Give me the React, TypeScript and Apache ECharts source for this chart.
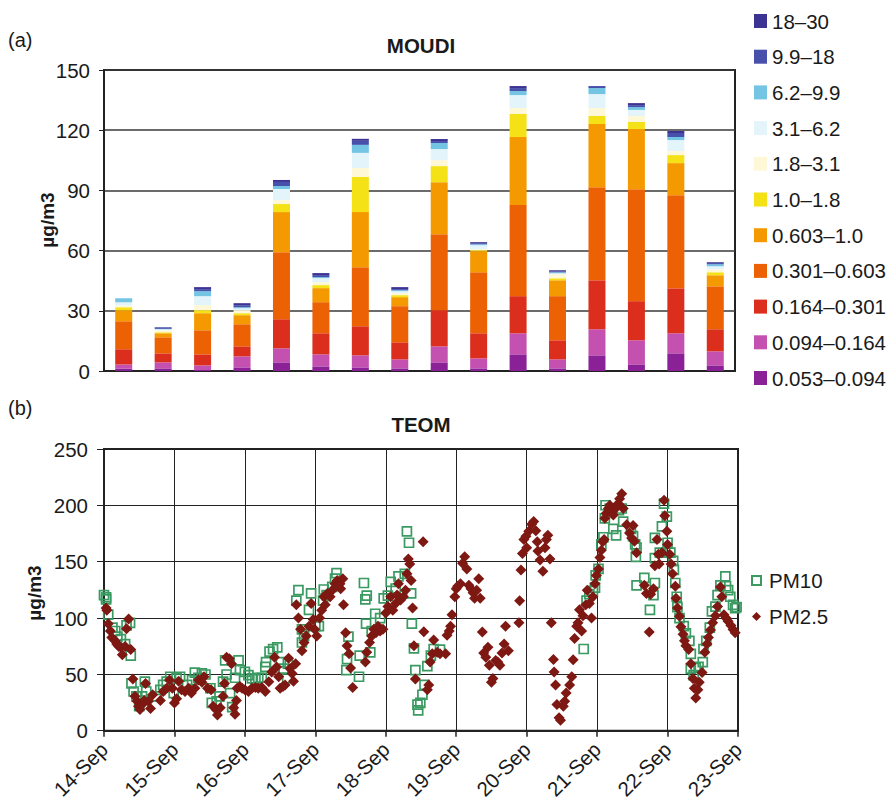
import React, { useEffect, useRef } from "react";
import * as echarts from "echarts";

// ---------- MOUDI (panel a) ----------
const categories = ["P1","P2","P3","P4","P5","P6","P7","P8","P9","P10","P11","P12","P13","P14","P15","P16"];
const sizeBins = ["0.053–0.094","0.094–0.164","0.164–0.301","0.301–0.603","0.603–1.0","1.0–1.8","1.8–3.1","3.1–6.2","6.2–9.9","9.9–18","18–30"];
const binColors = ["#8a2196","#c450b0","#dc2e1c","#ec6104","#f49a00","#f4e116","#fff8d6","#e3f4fa","#74c4e4","#4750aa","#3d3393"];

const v0053 = [1.3, 1.3, 0.5, 1.8, 4.3, 2.3, 1.8, 1.3, 4.3, 1.3, 8.3, 1.3, 7.8, 3.3, 8.8, 2.8];
const v0094 = [2.0, 3.0, 2.3, 5.5, 7.0, 6.0, 6.0, 4.5, 8.0, 5.0, 10.5, 4.5, 13.0, 12.0, 10.0, 7.0];
const v0164 = [7.5, 4.5, 5.5, 5.0, 14.5, 10.5, 14.5, 8.5, 18.0, 12.5, 18.5, 9.5, 24.4, 19.5, 22.4, 11.0];
const v0301 = [14.0, 8.0, 12.0, 11.0, 33.4, 15.5, 29.4, 18.0, 37.9, 30.4, 45.4, 22.0, 46.4, 55.8, 46.4, 21.4];
const v0603 = [5.5, 2.0, 8.5, 4.5, 20.0, 7.0, 27.5, 4.5, 25.9, 10.5, 33.9, 7.9, 31.5, 30.0, 16.0, 5.5];
const v10 = [1.5, 0.5, 1.5, 1.0, 4.0, 1.5, 17.5, 1.0, 8.0, 0.5, 11.5, 1.0, 4.0, 3.5, 4.0, 1.5];
const v18 = [0.8, 1.0, 2.5, 1.5, 2.0, 1.5, 4.5, 1.0, 3.0, 0.5, 3.0, 2.0, 4.0, 3.0, 2.0, 1.5];
const v31 = [1.7, 0.5, 4.5, 1.0, 5.5, 2.0, 7.5, 1.0, 5.5, 2.0, 6.4, 0.5, 6.9, 3.0, 5.5, 1.5];
const v62 = [2.0, 0.2, 2.5, 0.5, 1.5, 0.5, 4.0, 0.5, 3.0, 0.5, 2.0, 0.5, 3.0, 1.4, 1.5, 1.0];
const v99 = [0, 0.8, 1.0, 1.0, 2.0, 1.0, 2.0, 0.5, 1.0, 0.5, 1.5, 0.5, 1.0, 1.0, 2.0, 0.6];
const v1830 = [0, 0, 1.0, 1.0, 1.0, 1.0, 1.0, 1.0, 1.0, 0.5, 1.0, 0.5, 0, 1.0, 1.0, 0.4];
const binValues = [v0053, v0094, v0164, v0301, v0603, v10, v18, v31, v62, v99, v1830];

const moudiTicks = [0, 30, 60, 90, 120, 150];

// ---------- TEOM (panel b) ---------- x = days since 14-Sep
const dayLabels = ["14-Sep","15-Sep","16-Sep","17-Sep","18-Sep","19-Sep","20-Sep","21-Sep","22-Sep","23-Sep"];
const teomTicks = [0, 50, 100, 150, 200, 250];

const pm25 = [
  [0.03,108.8],[0.04,107],[0.06,95],[0.09,88.5],[0.11,82.7],[0.16,79.8],[0.18,76.9],[0.21,74.8],[0.24,74],[0.26,67.3],
  [0.30,74.8],[0.32,90.5],[0.35,99.2],[0.38,72],[0.41,45.8],[0.44,30.5],[0.47,26.1],[0.49,21.8],[0.51,18.9],[0.54,23.2],
  [0.57,26.7],[0.59,42],[0.63,26.1],[0.66,19.7],[0.69,31.9],[0.80,26.7],[0.84,34.8],[0.89,37.7],[0.93,45],[0.97,37.7],
  [1.0,24.7],[1.03,28.4],[1.06,44],[1.10,36.3],[1.15,34.8],[1.20,37.7],[1.24,33.4],[1.29,37.7],[1.34,45],[1.39,42.9],
  [1.42,47.9],[1.47,37.7],[1.52,36.3],[1.55,21.8],[1.59,18.9],[1.61,13.9],[1.65,20.3],[1.69,30.5],[1.71,42],[1.74,65.3],
  [1.78,63.8],[1.81,59.5],[1.84,20.3],[1.86,14.5],[1.88,26.7],[1.89,37.7],[1.93,39.2],[1.96,37.7],[2.0,36.3],[2.05,34.8],
  [2.10,37.7],[2.15,38.3],[2.19,37.7],[2.24,38.3],[2.29,34.8],[2.34,43.5],[2.38,52.2],[2.42,65.3],[2.45,56.6],[2.48,47.9],
  [2.50,37.7],[2.54,39.2],[2.57,40.6],[2.62,64.4],[2.64,55.1],[2.67,50.8],[2.69,44],[2.72,59.5],[2.73,111.7],[2.76,100],
  [2.79,90],[2.81,71],[2.84,78.3],[2.87,84.1],[2.91,92.8],[2.94,113],[2.97,98.6],[2.99,90],[3.02,84.1],[3.06,100],
  [3.09,107],[3.12,118.9],[3.14,111.7],[3.17,121.8],[3.21,118.9],[3.24,124.7],[3.28,130.5],[3.31,133.4],[3.35,130.5],[3.36,126],
  [3.39,134.9],[3.40,111.7],[3.43,87],[3.45,75.4],[3.48,68.2],[3.50,55.7],[3.53,38.3],[3.71,60.9],[3.73,69.6],[3.77,78.3],
  [3.80,84.1],[3.83,90],[3.86,87],[3.89,92.8],[3.92,88.5],[3.96,90],[4.0,104.4],[4.03,110.2],[4.07,118.9],[4.10,107],
  [4.14,113],[4.16,120.4],[4.18,130.5],[4.21,116],[4.25,118.9],[4.28,124.7],[4.30,139.2],[4.32,152.3],[4.34,147.9],[4.36,133.4],
  [4.38,108.8],[4.40,75.4],[4.42,45.8],[4.53,167.6],[4.54,87.9],[4.59,36.3],[4.61,40.6],[4.63,60.9],[4.66,68.2],[4.68,80.6],
  [4.73,69.6],[4.77,68.2],[4.85,68.2],[4.87,84.7],[4.90,88.5],[4.92,92.8],[4.94,103],[4.98,118.9],[5.0,126],[5.02,128.2],
  [5.06,130.5],[5.09,148.5],[5.12,154.3],[5.15,143.6],[5.18,129],[5.21,126],[5.24,122.4],[5.26,117.5],[5.29,124.7],[5.32,134.9],
  [5.34,117.5],[5.37,87.6],[5.39,69],[5.42,65.3],[5.45,74],[5.47,58],[5.50,42.9],[5.52,46.4],[5.56,62.4],[5.59,60.9],
  [5.62,58],[5.65,69],[5.68,76.9],[5.70,92.8],[5.74,71],[5.89,95.7],[5.90,115.4],[5.92,142.7],[5.94,157.2],[5.96,169.7],
  [5.99,172.6],[6.0,162.4],[6.03,176.9],[6.07,183.3],[6.10,185.6],[6.13,177.5],[6.15,167.6],[6.16,159.5],[6.19,151.4],[6.23,141.5],
  [6.26,162.4],[6.28,169.7],[6.30,173.4],[6.33,152.3],[6.35,95.7],[6.38,63.2],[6.39,52.2],[6.41,40.6],[6.43,23.2],[6.46,11.6],
  [6.48,9.3],[6.52,21.8],[6.54,26.1],[6.56,33.4],[6.61,40.6],[6.64,47.9],[6.66,62.9],[6.68,81.8],[6.71,92.8],[6.73,95.7],
  [6.75,107.3],[6.78,88.5],[6.80,102.1],[6.84,111.7],[6.86,124.7],[6.89,113],[6.92,100],[6.94,118.9],[6.97,130.5],[6.99,137.8],
  [7.02,143.6],[7.04,153.7],[7.06,160.1],[7.08,167.6],[7.10,169.7],[7.11,188.5],[7.13,192.9],[7.16,197.2],[7.18,200.1],[7.21,194.3],
  [7.23,191.4],[7.27,197.8],[7.30,201.6],[7.32,205.9],[7.35,210.3],[7.37,197.2],[7.42,182.7],[7.46,175.5],[7.49,171.1],[7.51,182.1],
  [7.53,168.2],[7.56,158],[7.67,129],[7.70,121.8],[7.74,87.6],[7.76,121.2],[7.80,126],[7.82,146.5],[7.85,169.7],[7.87,156.6],
  [7.88,147.9],[7.92,158],[7.95,204.5],[7.96,190.8],[7.99,176.9],[8.0,165.3],[8.03,156.6],[8.05,147.9],[8.07,139.2],[8.11,128.2],
  [8.12,117.5],[8.14,108.8],[8.17,101.5],[8.19,92.2],[8.22,85.6],[8.24,79.8],[8.26,75.4],[8.30,72],[8.33,59.5],[8.36,46.4],
  [8.38,37.7],[8.40,29],[8.43,36.3],[8.45,42.9],[8.49,51.6],[8.53,69.6],[8.56,76.9],[8.58,82.7],[8.61,89.3],[8.64,95.7],
  [8.68,102.1],[8.71,110.2],[8.75,127.6],[8.77,118.9],[8.80,103],[8.83,100],[8.86,97.2],[8.90,93.4],[8.93,89.9],[8.96,87]
];

const pm10 = [
  [0.0,120.4],[0.03,118.3],[0.03,116.6],[0.06,103],[0.12,91.4],[0.16,88.5],[0.19,83.5],[0.24,81.2],[0.30,76.9],[0.32,93.4],
  [0.37,95.7],[0.38,66.7],[0.39,42],[0.42,34.8],[0.46,30.5],[0.50,21.8],[0.54,30.5],[0.58,43.5],[0.60,34.8],[0.75,30.5],
  [0.80,36.3],[0.84,40.6],[0.89,43.5],[0.94,47.9],[0.99,33.4],[1.03,46.4],[1.08,47.9],[1.18,40.6],[1.25,45],[1.29,51.6],
  [1.34,47],[1.39,50.8],[1.44,49.9],[1.51,37.7],[1.53,24.7],[1.60,26.1],[1.64,30.5],[1.69,43.5],[1.72,62.4],[1.74,49.9],
  [1.79,33.4],[1.82,20.9],[1.86,47],[1.91,62.4],[1.93,53.7],[2.0,52.2],[2.05,49.3],[2.10,46.4],[2.15,45.8],[2.19,47],
  [2.24,47],[2.29,56.6],[2.30,60.9],[2.35,70.1],[2.40,72.4],[2.46,74],[2.51,60.9],[2.55,55.1],[2.60,46.4],[2.61,59.5],
  [2.73,115.4],[2.76,124.7],[2.81,90],[2.81,78.3],[2.84,84.1],[2.91,107.3],[2.94,121.8],[3.0,92.8],[3.05,92.8],[3.11,115.4],
  [3.12,125.3],[3.16,120.4],[3.24,127.6],[3.28,134.9],[3.30,139.8],[3.44,53.7],[3.45,63.5],[3.47,83.5],[3.62,47.9],[3.63,66.7],
  [3.69,131.1],[3.71,116.6],[3.72,95.1],[3.73,119.8],[3.78,69.6],[3.80,88.5],[3.85,103.8],[3.92,100],[3.97,117.5],[4.03,119.8],
  [4.07,132],[4.14,126.2],[4.18,136.9],[4.27,139.2],[4.30,176.9],[4.33,166.8],[4.36,121.8],[4.37,95.1],[4.40,73.1],[4.42,53.7],
  [4.45,23.2],[4.46,18],[4.49,24.7],[4.52,31.9],[4.55,40.6],[4.59,57.4],[4.64,66.7],[4.68,72.5],[4.77,71.9],
  [6.81,72.5],[6.85,115.4],[6.89,121.2],[6.94,124.1],[6.97,127],[6.98,137.8],[7.02,143.6],[7.06,165.3],[7.09,171.7],[7.11,188.5],
  [7.12,200.1],[7.18,197.2],[7.23,179.2],[7.27,173.4],[7.31,195.8],[7.35,197.2],[7.37,185.6],[7.48,179.2],[7.51,172.6],[7.54,165.3],
  [7.55,154.3],[7.56,162.4],[7.56,129],[7.67,135.7],[7.75,107.3],[7.80,120.4],[7.82,131.1],[7.82,171.1],[7.82,153.1],[7.89,158],
  [7.92,181.3],[7.95,201.6],[7.99,190],[8.0,166.8],[8.04,158],[8.08,150.8],[8.09,142.7],[8.11,131.1],[8.13,118.9],[8.14,109.6],
  [8.17,100],[8.23,92.8],[8.26,86.4],[8.31,79.8],[8.33,68.2],[8.33,55.1],[8.37,49.3],[8.40,55.7],[8.44,56.6],[8.50,60.9],
  [8.51,72.5],[8.55,79.8],[8.60,91.4],[8.63,105.9],[8.68,110.2],[8.71,120.4],[8.75,129],[8.82,136.9],[8.83,128.2],[8.86,124.7],
  [8.89,118.9],[8.93,111.7],[8.96,108.8],[8.98,109.6]
];

const FONT = '"Liberation Sans", Arial, Helvetica, sans-serif';
const INK = "#1a1a1a";

export default function App() {
  const ref = useRef<HTMLDivElement>(null);

  useEffect(() => {
    if (!ref.current) return;
    const chart = echarts.init(ref.current, undefined, { renderer: "svg" });

    const barSeries = sizeBins.map((name, i) => ({
      name,
      type: "bar",
      stack: "moudi",
      xAxisIndex: 0,
      yAxisIndex: 0,
      barWidth: 17,
      data: binValues[i],
      itemStyle: { color: binColors[i] },
      emphasis: { disabled: true },
    }));

    const txt = (text: string, x: number, y: number, font: string, align: string, rotation = 0) => ({
      type: "text",
      x,
      y,
      rotation,
      style: { text, font, fill: INK, textAlign: align, textVerticalAlign: "middle", align, verticalAlign: "middle" },
    });

    const option: any = {
      animation: false,
      textStyle: { fontFamily: FONT },
      grid: [
        { left: 104, top: 70, width: 631, height: 301, show: true, borderColor: "#222", borderWidth: 2, backgroundColor: "transparent" },
        { left: 104, top: 449, width: 634, height: 288, show: true, borderColor: "#222", borderWidth: 2, backgroundColor: "transparent" },
      ],
      legend: [
        {
          data: sizeBins.slice().reverse(),
          orient: "vertical",
          left: 749,
          top: 5.5,
          itemWidth: 13,
          itemHeight: 14,
          itemGap: 14.7,
          icon: "rect",
          selectedMode: false,
          textStyle: { fontSize: 20.5, lineHeight: 20, color: INK, fontFamily: FONT },
        },
        {
          data: ["PM10", "PM2.5"],
          orient: "vertical",
          left: 746,
          top: 565,
          itemWidth: 9,
          itemHeight: 9,
          itemGap: 15,
          selectedMode: false,
          textStyle: { fontSize: 20.5, lineHeight: 20, color: INK, fontFamily: FONT, padding: [0, 0, 0, 3] },
        },
      ],
      xAxis: [
        {
          type: "category",
          gridIndex: 0,
          data: categories,
          axisLabel: { show: false },
          axisTick: { show: false },
          axisLine: { lineStyle: { color: "#222", width: 2 } },
        },
        {
          type: "value",
          gridIndex: 1,
          min: 0,
          max: 9,
          interval: 1,
          axisLabel: {
            rotate: 45,
            margin: 15,
            fontSize: 20.5,
            color: INK,
            fontFamily: FONT,
            formatter: (v: number) => dayLabels[Math.round(v)] ?? "",
          },
          axisTick: { show: true, length: 6, lineStyle: { color: "#222", width: 1.5 } },
          axisLine: { lineStyle: { color: "#222", width: 2 } },
          splitLine: { show: true, lineStyle: { color: "#222", width: 1 } },
        },
      ],
      yAxis: [
        {
          type: "value",
          gridIndex: 0,
          min: moudiTicks[0],
          max: moudiTicks[moudiTicks.length - 1],
          interval: 30,
          axisLabel: { fontSize: 20.5, color: INK, margin: 14, fontFamily: FONT },
          axisTick: { show: true, length: 5, lineStyle: { color: "#222" } },
          axisLine: { show: true, lineStyle: { color: "#222", width: 2 } },
          splitLine: { show: true, lineStyle: { color: "#3a3a3a", width: 1.5 } },
        },
        {
          type: "value",
          gridIndex: 1,
          min: teomTicks[0],
          max: teomTicks[teomTicks.length - 1],
          interval: 50,
          axisLabel: { fontSize: 20.5, color: INK, margin: 16, fontFamily: FONT },
          axisTick: { show: true, length: 7, lineStyle: { color: "#222" } },
          axisLine: { show: true, lineStyle: { color: "#222", width: 2 } },
          splitLine: { show: true, lineStyle: { color: "#222", width: 1 } },
        },
      ],
      graphic: [
        txt("(a)", 8, 40, `20px ${FONT}`, "left"),
        txt("(b)", 8, 408, `20px ${FONT}`, "left"),
        txt("MOUDI", 421, 45, `bold 20.5px ${FONT}`, "center"),
        txt("TEOM", 421, 424, `bold 20.5px ${FONT}`, "center"),
        txt("µg/m3", 47, 220, `bold 19px ${FONT}`, "center", Math.PI / 2),
        txt("µg/m3", 34, 593, `bold 19px ${FONT}`, "center", Math.PI / 2),
      ],
      series: [
        ...barSeries,
        {
          name: "PM10",
          type: "scatter",
          xAxisIndex: 1,
          yAxisIndex: 1,
          symbol: "rect",
          symbolSize: 9,
          data: pm10,
          itemStyle: { color: "rgba(255,255,255,0)", borderColor: "#3a9a62", borderWidth: 1.7, opacity: 1 },
          emphasis: { disabled: true },
        },
        {
          name: "PM2.5",
          type: "scatter",
          xAxisIndex: 1,
          yAxisIndex: 1,
          symbol: "diamond",
          symbolSize: 11,
          data: pm25,
          itemStyle: { color: "#7e1812", opacity: 1 },
          emphasis: { disabled: true },
        },
      ],
    };

    chart.setOption(option);
    return () => chart.dispose();
  }, []);

  return <div ref={ref} style={{ position: "absolute", left: 0, top: 0, width: 888, height: 802, background: "#fff" }} />;
}
